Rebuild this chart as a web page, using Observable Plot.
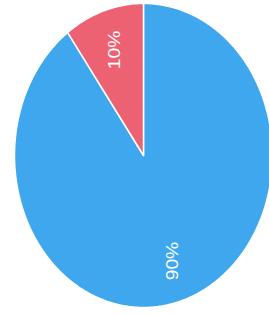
<!DOCTYPE html>
<html>
<head>
<meta charset="utf-8">
<script src="https://cdn.jsdelivr.net/npm/d3@7"></script>
<script src="https://cdn.jsdelivr.net/npm/@observablehq/plot@0.6"></script>
<style>
  html, body { margin: 0; padding: 0; background: #fff; overflow: hidden; }
  #chart svg { display: block; }
</style>
</head>
<body>
<div id="chart"></div>
<script>
// Data
const categories = ["A", "B"];
const values = [90, 10];
const labels = ["90%", "10%"];
const colors = ["#3ea7ee", "#ec6272"];

// Build slice outlines (angles clockwise from 12 o'clock) through d3.pie
const pie = d3.pie().sort(null).value(d => d.value)(
  categories.map((c, i) => ({category: c, value: values[i], label: labels[i]}))
);
const outline = [];
const labelPts = [];
pie.forEach(s => {
  const c = s.data.category;
  outline.push({category: c, x: 0, y: 0});
  const n = Math.max(2, Math.ceil((s.endAngle - s.startAngle) / 0.01));
  for (let k = 0; k <= n; k++) {
    const a = s.startAngle + (s.endAngle - s.startAngle) * k / n;
    outline.push({category: c, x: Math.sin(a), y: Math.cos(a)});
  }
  const m = (s.startAngle + s.endAngle) / 2;
  labelPts.push({category: c, label: s.data.label, x: 0.73 * Math.sin(m), y: 0.73 * Math.cos(m)});
});

const chart = Plot.plot({
  width: 269,
  height: 314,
  marginLeft: 14,
  marginRight: -3,
  marginTop: 3,
  marginBottom: 7,
  x: {domain: [-1, 1], axis: null},
  y: {domain: [-1, 1], axis: null},
  color: {domain: categories, range: colors},
  style: {background: "#fff", fontFamily: "Liberation Sans, Arial, sans-serif"},
  marks: [
    Plot.line(outline, {
      x: "x", y: "y", z: "category",
      fill: "category", stroke: "#fff", strokeWidth: 1.5,
      curve: "linear-closed"
    }),
    Plot.text(labelPts, {
      x: "x", y: "y", text: "label",
      rotate: -90, fill: "#fff", fontSize: 16,
      className: "slice-label"
    })
  ]
});
d3.select(chart).selectAll(".slice-label text").attr("transform", function() {
  return (this.getAttribute("transform") || "") + " scale(1.2,1)";
});
document.getElementById("chart").appendChild(chart);
</script>
</body>
</html>
